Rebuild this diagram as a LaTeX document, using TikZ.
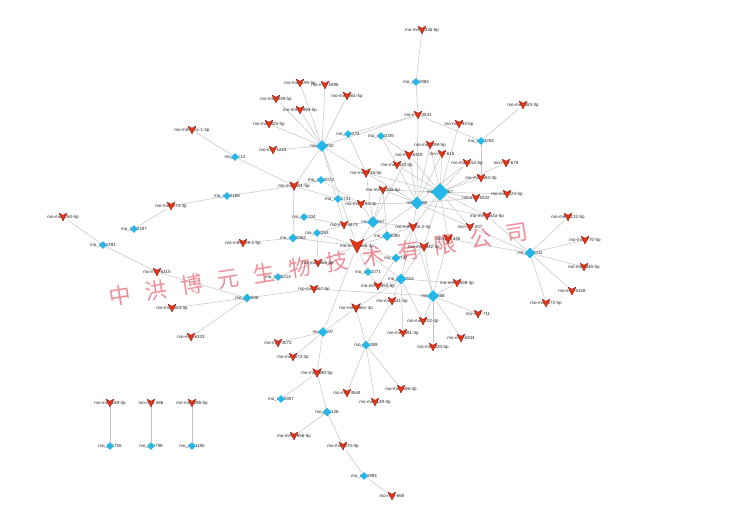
\documentclass[tikz,border=0pt]{standalone}
\usepackage{fontspec}
\setmainfont{Liberation Sans}
\newfontfamily\wmfont{Noto Sans CJK SC}
\usetikzlibrary{shapes.geometric,calc}
\pgfdeclarelayer{edges}
\pgfsetlayers{edges,main}
\definecolor{circblue}{RGB}{38,182,232}
\definecolor{mirred}{RGB}{232,52,22}
\definecolor{mirdark}{RGB}{140,20,10}
\definecolor{edgegray}{RGB}{196,196,196}
\definecolor{wmred}{RGB}{232,96,110}
\tikzset{
  lbl/.style={font=\fontsize{4.5}{5}\selectfont, inner sep=0pt, text=black!85},
  circnode/.style={diamond, fill=circblue, inner sep=0pt, minimum width=#1, minimum height=#1},
  circnode/.default=8pt,
  mirnode/.style={rectangle, inner sep=0pt, minimum width=#1, minimum height=#1,
    path picture={\fill[mirred, draw=mirdark, line width=0.3pt]
      (path picture bounding box.north west) --
      ($(path picture bounding box.north)!0.55!(path picture bounding box.center)$) --
      (path picture bounding box.north east) --
      (path picture bounding box.south) -- cycle;}},
  mirnode/.default=8pt,
  link/.style={draw=edgegray, line width=0.5pt},
  wm/.style={font=\wmfont\fontsize{22}{22}\selectfont, text=wmred, opacity=0.7, rotate=9, inner sep=0pt}
}
\newcommand\mirn[5][8pt]{\node[lbl] (#2-t) at (#3,#4) {mo-miR-#5}; \node[mirnode=#1] (#2) at (#3,#4) {};}
\newcommand\circn[5][8pt]{\node[lbl] (#2-t) at (#3,#4) {mo\_circ#5}; \node[circnode=#1] (#2) at (#3,#4) {};}
\begin{document}
\begin{tikzpicture}[x=1pt,y=-1pt]
\useasboundingbox (0,0) rectangle (746,532);
% watermark
\foreach \ch [count=\i from 0] in {中,洪,博,元,生,物,技,术,有,限,公,司}
  \node[wm] (wm\i) at ({120+36.1*\i},{296-5.7*\i}) {\ch};
% miRNAs
\mirn{m133b}{422}{30}{133b-5p}
\mirn{m3541}{418}{115}{3541}
\mirn{m483}{523}{105}{483-3p}
\mirn{m93f}{459}{124}{93-5p}
\mirn{m195}{300}{83}{195-5p}
\mirn{m1896}{325}{85}{1896}
\mirn{m561}{347}{96}{561-5p}
\mirn{m339}{276}{99}{339-5p}
\mirn{m1894}{300}{110}{1894-5p}
\mirn{m325}{269}{124}{325-5p}
\mirn{m30c}{192}{130}{30c-1-3p}
\mirn{m1224}{273}{150}{1224}
\mirn[9pt]{m6318}{409}{155}{6318}
\mirn{m423}{397}{165}{423-5p}
\mirn[9pt]{m23a}{366}{173}{23a-5p}
\mirn[9pt]{m551}{294}{186}{551-5p}
\mirn{m128a}{383}{190}{128a-5p}
\mirn{m193}{361}{204}{193-3p}
\mirn{m3473}{344}{225}{3473}
\mirn[9pt]{m30b}{413}{227}{30b-2-3p}
\mirn[14pt]{m466b}{357}{246}{466b-3p}
\mirn{m128o}{243}{243}{128-1-5p}
\mirn{m874}{171}{206}{874-3p}
\mirn{m760}{63}{217}{760-5p}
\mirn{m298}{430}{145}{298-5p}
\mirn{m615}{442}{154}{615}
\mirn{m152}{467}{163}{152-5p}
\mirn{m678}{506}{163}{678}
\mirn{m584}{481}{178}{584-3p}
\mirn{m6332}{476}{198}{6332}
\mirn{m324f}{507}{194}{324-5p}
\mirn{m344a}{487}{216}{344a-5p}
\mirn{m207}{470}{227}{207}
\mirn[9pt]{m346}{448}{239}{346}
\mirn[9pt]{mx}{424}{247}{342-3p}
\mirn{m666}{318}{263}{666-5p}
\mirn{m6315}{157}{272}{6315}
\mirn{m1553}{378}{286}{1553-5p}
\mirn{m667}{314}{289}{667-5p}
\mirn{m541}{392}{301}{541-5p}
\mirn[9pt]{m466c}{356}{308}{466c-3p}
\mirn{m324t}{172}{308}{324-3p}
\mirn{m6333}{191}{337}{6333}
\mirn{m3559}{457}{283}{3559-3p}
\mirn{m711}{478}{314}{711}
\mirn{m702}{423}{321}{702-3p}
\mirn{m381}{403}{333}{381-3p}
\mirn{m6334}{461}{338}{6334}
\mirn{m320}{433}{347}{320-5p}
\mirn{m3072}{278}{343}{3072}
\mirn{m673}{293}{357}{673-3p}
\mirn[9pt]{m690}{317}{373}{690-5p}
\mirn{m3644}{347}{393}{3644}
\mirn{m149}{375}{402}{149-3p}
\mirn{m586}{401}{389}{586-3p}
\mirn{m1956}{294}{436}{1956-5p}
\mirn{m370}{343}{446}{370-3p}
\mirn{m665}{392}{496}{665}
\mirn{m1132}{568}{217}{1132-5p}
\mirn{m770}{585}{240}{770-5p}
\mirn{m345}{584}{267}{345-5p}
\mirn{m6328}{572}{291}{6328}
\mirn{m672}{546}{303}{672-5p}
\mirn{m188}{110}{403}{188-3p}
\mirn{m486}{151}{403}{486}
\mirn{m296}{192}{403}{296-5p}
% circRNAs
\circn{c1984}{416}{82}{1984}
\circn{c1254}{481}{141}{4254}
\circn{c274}{348}{134}{274}
\circn{c1035}{381}{136}{1035}
\circn[12pt]{c700}{322}{146}{700}
\circn{c12}{235}{157}{12}
\circn{c2072}{321}{180}{2072}
\circn{c1731}{338}{199}{1731}
\circn[13pt]{c92}{417}{203}{92}
\circn[18pt]{c1867}{440}{192}{1867}
\circn{c334}{304}{217}{334}
\circn[12pt]{c867}{373}{222}{867}
\circn{c263}{317}{233}{263}
\circn[10pt]{c4090}{387}{236}{4090}
\circn[9pt]{c1962}{293}{238}{1962}
\circn[9pt]{c747}{396}{258}{747}
\circn{c2168}{227}{196}{2168}
\circn{c2187}{134}{229}{2187}
\circn{c1491}{103}{245}{1491}
\circn{c5213}{278}{277}{5213}
\circn{c1071}{368}{272}{1071}
\circn[11pt]{c1914}{401}{279}{1914}
\circn[9pt]{c506}{247}{298}{506}
\circn[12pt]{c868}{433}{296}{868}
\circn[11pt]{c2011}{530}{253}{2011}
\circn[10pt]{c97}{323}{332}{97}
\circn[9pt]{c389}{366}{345}{389}
\circn{c1907}{281}{399}{1907}
\circn[9pt]{c126}{327}{412}{126}
\circn{c1994}{364}{476}{1994}
\circn{c755}{110}{446}{755}
\circn{c798}{151}{446}{798}
\circn{c1185}{192}{446}{1185}
% edges
\begin{pgfonlayer}{edges}
\fill[white] (0,0) rectangle (746,532);
\foreach \a/\b in {m133b/c1984, m3541/c1984, m3541/c274, m3541/c1254, m3541/c92,
  m483/c1254, m584/c1254, m93f/c1867,
  c700/m195, c700/m1896, c700/m561, c700/m339, c700/m1894, c700/m325, c700/m1224,
  c700/m551, c700/m23a, c700/m3473, c700/m466b, c700/m3541,
  c12/m30c, c12/m551, c2168/m874, c2168/m551, c2187/m874, c1491/m760, c1491/m6315,
  c506/m6315, c506/m324t, c506/m6333, c506/m667,
  c274/m23a, c1035/m6318, c1035/m423, c2072/m551, c2072/m193, c1731/m551, c1731/m193,
  c334/m3473, c1962/m128o, c1962/m551, c1962/m466b, c263/m3473, c263/m466b, c263/m666,
  c5213/m466b,
  c867/m23a, c867/m128a, c867/m193, c867/m3473, c867/m466b, c867/m30b, c867/m6318,
  c4090/m466b, c4090/m30b, c4090/m128a,
  c747/m466b, c747/m30b, c747/m346, c747/m1553, c1071/m466b, c1071/m1553,
  c92/m6318, c92/m298, c92/m615, c92/m152, c92/m423, c92/m128a, c92/m193, c92/m30b,
  c92/m6332, c92/m344a, c92/m207, c92/m23a, c92/m466b,
  c1867/m6318, c1867/m298, c1867/m615, c1867/m152, c1867/m678, c1867/m584, c1867/m6332,
  c1867/m324f, c1867/m344a, c1867/m207, c1867/m423, c1867/m23a, c1867/m128a, c1867/m346,
  c1867/m30b, c1867/mx,
  c1914/m1553, c1914/m541, c1914/m381, c1914/m702, c1914/m30b, c1914/mx, c1914/m466b,
  c1914/m3559, c1914/m466c,
  c868/m3559, c868/m711, c868/m6334, c868/m320, c868/m702, c868/m346, c868/m30b, c868/mx, c868/m667,
  c2011/m1132, c2011/m770, c2011/m345, c2011/m6328, c2011/m672, c2011/m207, c2011/m346, c2011/m344a,
  c97/m3072, c97/m673, c97/m690, c97/m466c, c97/m466b,
  c389/m3644, c389/m149, c389/m586, c389/m466c, c389/m541,
  c1907/m690, c126/m690, c126/m1956, c126/m370, c1994/m370, c1994/m665,
  c755/m188, c798/m486, c1185/m296}
  \draw[link] (\a) -- (\b);
\end{pgfonlayer}
\end{tikzpicture}
\end{document}
